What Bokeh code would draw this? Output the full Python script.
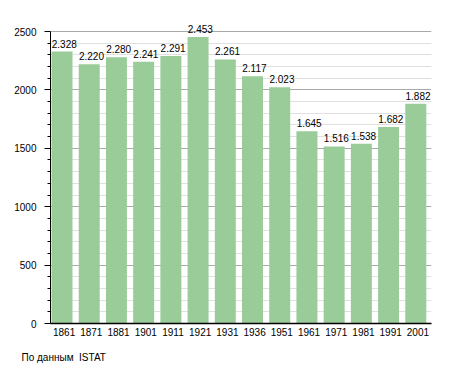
from bokeh.plotting import figure
from bokeh.models import ColumnDataSource, FixedTicker, FactorRange, Range1d, Title
from bokeh.transform import dodge
from bokeh.core.properties import value
from bokeh.embed import file_html
from bokeh.resources import INLINE

years = ["1861", "1871", "1881", "1901", "1911", "1921", "1931", "1936",
         "1951", "1961", "1971", "1981", "1991", "2001"]
population = [2328, 2220, 2280, 2241, 2291, 2453, 2261, 2117,
              2023, 1645, 1516, 1538, 1682, 1882]
labels = ["2.328", "2.220", "2.280", "2.241", "2.291", "2.453", "2.261", "2.117",
          "2.023", "1.645", "1.516", "1.538", "1.682", "1.882"]
y_major = [0, 500, 1000, 1500, 2000, 2500]
y_minor = [v for v in range(100, 2600, 100) if v % 500 != 0]
source_note = "По данным\u00a0 ISTAT"

FONT = "Liberation Sans"

src = ColumnDataSource(dict(year=years, pop=population, lab=labels))

p = figure(width=455, height=373, output_backend="svg", toolbar_location=None,
           x_range=FactorRange(factors=years, range_padding=0),
           y_range=Range1d(0, 2637),
           min_border_left=50, min_border_right=24, min_border_top=15, min_border_bottom=50)
p.outline_line_color = None
p.background_fill_color = "white"
p.border_fill_color = "white"

p.vbar(x=dodge("year", -0.077, range=p.x_range), top="pop", width=0.771, bottom=0,
       source=src, fill_color="#99cc99", line_color=None)

p.text(x=dodge("year", -0.455, range=p.x_range), y="pop", text="lab", source=src,
       text_font=value(FONT), text_font_size="10px", text_color="black",
       text_align="left", text_baseline="bottom", y_offset=-4)

# grids
p.xgrid.grid_line_color = None
p.ygrid.ticker = FixedTicker(ticks=y_major, minor_ticks=y_minor)
p.ygrid.grid_line_color = "#aaaaaa"
p.ygrid.minor_grid_line_color = "#e0e0e0"
p.ygrid.level = "underlay"

# y axis
p.yaxis.ticker = FixedTicker(ticks=y_major, minor_ticks=y_minor)
p.yaxis.bounds = (0, 2500)
p.yaxis.axis_line_color = "black"
p.yaxis.major_tick_in = 0
p.yaxis.major_tick_out = 6
p.yaxis.minor_tick_in = 0
p.yaxis.minor_tick_out = 3
p.yaxis.major_tick_line_color = "black"
p.yaxis.minor_tick_line_color = "black"
p.yaxis.major_label_text_font = FONT
p.yaxis.major_label_text_font_size = "10px"
p.yaxis.major_label_text_color = "black"
p.yaxis.major_label_standoff = 8

# x axis
p.xaxis.axis_line_color = "black"
p.xaxis.axis_line_width = 1.5
p.xaxis.major_tick_line_color = None
p.xaxis.minor_tick_line_color = None
p.xaxis.major_tick_out = 0
p.xaxis.major_label_text_font = FONT
p.xaxis.major_label_text_font_size = "10px"
p.xaxis.major_label_text_color = "black"
p.xaxis.major_label_standoff = 4

p.add_layout(Title(text=source_note, align="left", offset=-29, standoff=22,
                   text_font=FONT, text_font_size="10px", text_font_style="normal",
                   text_color="black"), "below")

open("out.html", "w").write(file_html(p, INLINE))
